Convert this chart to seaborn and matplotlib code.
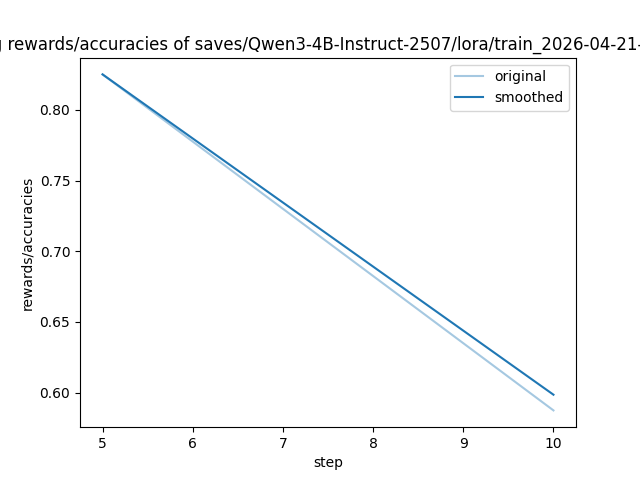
import matplotlib
matplotlib.use("Agg")
import matplotlib.pyplot as plt
import seaborn as sns

steps = [5, 10]
original = [0.825, 0.5875]
smoothed = [0.825, 0.5986]

key = "rewards/accuracies"
save_dir = "saves/Qwen3-4B-Instruct-2507/lora/train_2026-04-21-10-15-32"

plt.style.use("default")
fig = plt.figure(figsize=(6.4, 4.8), dpi=100)
ax = fig.add_subplot(111)

sns.lineplot(x=steps, y=original, color="#1f77b4", alpha=0.4, label="original", ax=ax)
sns.lineplot(x=steps, y=smoothed, color="#1f77b4", label="smoothed", ax=ax)

ax.legend()
ax.set_title(f"training {key} of {save_dir}")
ax.set_xlabel("step")
ax.set_ylabel(key)

fig.savefig("out.png", dpi=100)
